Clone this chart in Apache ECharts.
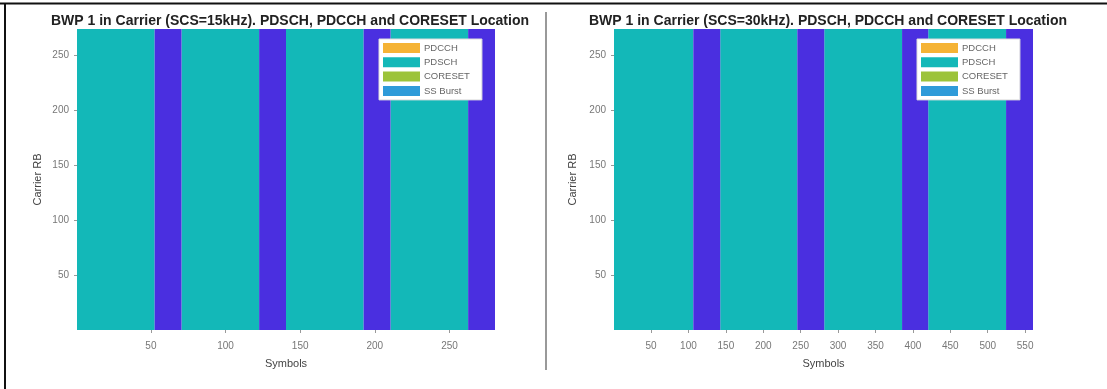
<!DOCTYPE html>
<html>
<head>
<meta charset="utf-8">
<script src="https://cdn.jsdelivr.net/npm/echarts@6/dist/echarts.min.js"></script>
<style>html,body{margin:0;padding:0;background:#fff}#c{width:1107px;height:389px}</style>
</head>
<body>
<div id="c"></div>
<script>
// ---- data ----
const titles = [
  'BWP 1 in Carrier (SCS=15kHz). PDSCH, PDCCH and CORESET Location',
  'BWP 1 in Carrier (SCS=30kHz). PDSCH, PDCCH and CORESET Location'
];
const legendNames = ['PDCCH', 'PDSCH', 'CORESET', 'SS Burst'];
const numSymbols = [280, 560];
const numRB = 273;
// symbol ranges (inclusive) occupied by PDSCH, per panel
const pdsch15 = [[1, 52], [71, 122], [141, 192], [211, 262]];
const pdsch30 = [[1, 106], [143, 245], [282, 385], [421, 524]];
// symbol ranges (inclusive) of the unallocated (blue-violet) blocks
const gap15 = [[53, 70], [123, 140], [193, 210], [263, 280]];
const gap30 = [[107, 142], [246, 281], [386, 420], [525, 560]];
const xTicks15 = [50, 100, 150, 200, 250];
const xTicks30 = [50, 100, 150, 200, 250, 300, 350, 400, 450, 500, 550];
const yTicks = [50, 100, 150, 200, 250];

// ---- chart ----
const colors = { PDCCH: '#f5b335', PDSCH: '#13b8b8', CORESET: '#9cc33a', 'SS Burst': '#2f9bd9', gap: '#4a2fe0' };
const font = 'Liberation Sans, Arial, sans-serif';

function rects(ranges) {
  return ranges.map(r => [r[0] - 0.5, r[1] + 0.5, 0.5, numRB + 0.5]);
}
function renderRect(params, api) {
  const p0 = api.coord([api.value(0), api.value(3)]);
  const p1 = api.coord([api.value(1), api.value(2)]);
  return {
    type: 'rect',
    shape: { x: p0[0], y: p0[1], width: p1[0] - p0[0], height: p1[1] - p0[1] },
    style: { fill: api.visual('color') }
  };
}

const grids = [
  { left: 77, top: 29, width: 418, height: 301 },
  { left: 614, top: 29, width: 419, height: 301 }
];

function xAxis(i, ticks) {
  return {
    type: 'value', gridIndex: i, min: 0.5, max: numSymbols[i] + 0.5,
    name: 'Symbols', nameLocation: 'middle', nameGap: 28,
    nameTextStyle: { color: '#444', fontSize: 11, fontFamily: font },
    axisLine: { show: false },
    splitLine: { show: false },
    axisTick: { show: true, customValues: ticks, length: 3, lineStyle: { color: '#999' } },
    axisLabel: { customValues: ticks, color: '#777', fontSize: 10, fontFamily: font, margin: 11 }
  };
}
function yAxis(i, gap) {
  return {
    type: 'value', gridIndex: i, min: 0.5, max: numRB + 0.5,
    name: 'Carrier RB', nameLocation: 'middle', nameGap: gap, nameRotate: 90,
    nameTextStyle: { color: '#444', fontSize: 11, fontFamily: font },
    axisLine: { show: false },
    splitLine: { show: false },
    axisTick: { show: true, customValues: yTicks, length: 3, lineStyle: { color: '#999' } },
    axisLabel: { customValues: yTicks, color: '#777', fontSize: 10, fontFamily: font, margin: 8 }
  };
}

function legend(left) {
  return {
    data: legendNames.map(n => ({ name: n, icon: 'rect', itemStyle: { color: colors[n] } })),
    orient: 'vertical', left: left, top: 39,
    itemWidth: 37, itemHeight: 10, itemGap: 4.3,
    padding: [4, 12, 4, 4],
    backgroundColor: '#fff', borderColor: '#ddd', borderWidth: 1,
    selectedMode: false,
    textStyle: { color: '#666', fontSize: 9.5, fontFamily: font, padding: [0, 0, 0, -1] }
  };
}

function seriesFor(i, pdsch, gap) {
  return [
    { type: 'custom', name: 'PDCCH', xAxisIndex: i, yAxisIndex: i, itemStyle: { color: colors.PDCCH }, renderItem: renderRect, data: [] },
    { type: 'custom', name: 'PDSCH', xAxisIndex: i, yAxisIndex: i, itemStyle: { color: colors.PDSCH }, renderItem: renderRect, data: rects(pdsch), silent: true },
    { type: 'custom', name: 'CORESET', xAxisIndex: i, yAxisIndex: i, itemStyle: { color: colors.CORESET }, renderItem: renderRect, data: [] },
    { type: 'custom', name: 'SS Burst', xAxisIndex: i, yAxisIndex: i, itemStyle: { color: colors['SS Burst'] }, renderItem: renderRect, data: [] },
    { type: 'custom', name: 'gap', xAxisIndex: i, yAxisIndex: i, itemStyle: { color: colors.gap }, renderItem: renderRect, data: rects(gap), silent: true }
  ];
}

const chart = echarts.init(document.getElementById('c'), null, { renderer: 'canvas' });
chart.setOption({
  animation: false,
  backgroundColor: '#fff',
  title: [
    { text: titles[0], left: 285, top: 9, textAlign: 'center', textStyle: { fontSize: 14, fontWeight: 'bold', color: '#222', fontFamily: font } },
    { text: titles[1], left: 823, top: 9, textAlign: 'center', textStyle: { fontSize: 14, fontWeight: 'bold', color: '#222', fontFamily: font } }
  ],
  grid: grids,
  xAxis: [xAxis(0, xTicks15), xAxis(1, xTicks30)],
  yAxis: [yAxis(0, 34), yAxis(1, 36)],
  legend: [legend(379), legend(917)],
  series: [].concat(seriesFor(0, pdsch15, gap15), seriesFor(1, pdsch30, gap30)),
  graphic: [
    { type: 'line', shape: { x1: 0, y1: 3.5, x2: 1107, y2: 3.5 }, style: { stroke: '#111', lineWidth: 2 } },
    { type: 'line', shape: { x1: 5, y1: 3, x2: 5, y2: 389 }, style: { stroke: '#111', lineWidth: 2 } },
    { type: 'line', shape: { x1: 546, y1: 12, x2: 546, y2: 370 }, style: { stroke: '#999', lineWidth: 2 } }
  ]
});
</script>
</body>
</html>
